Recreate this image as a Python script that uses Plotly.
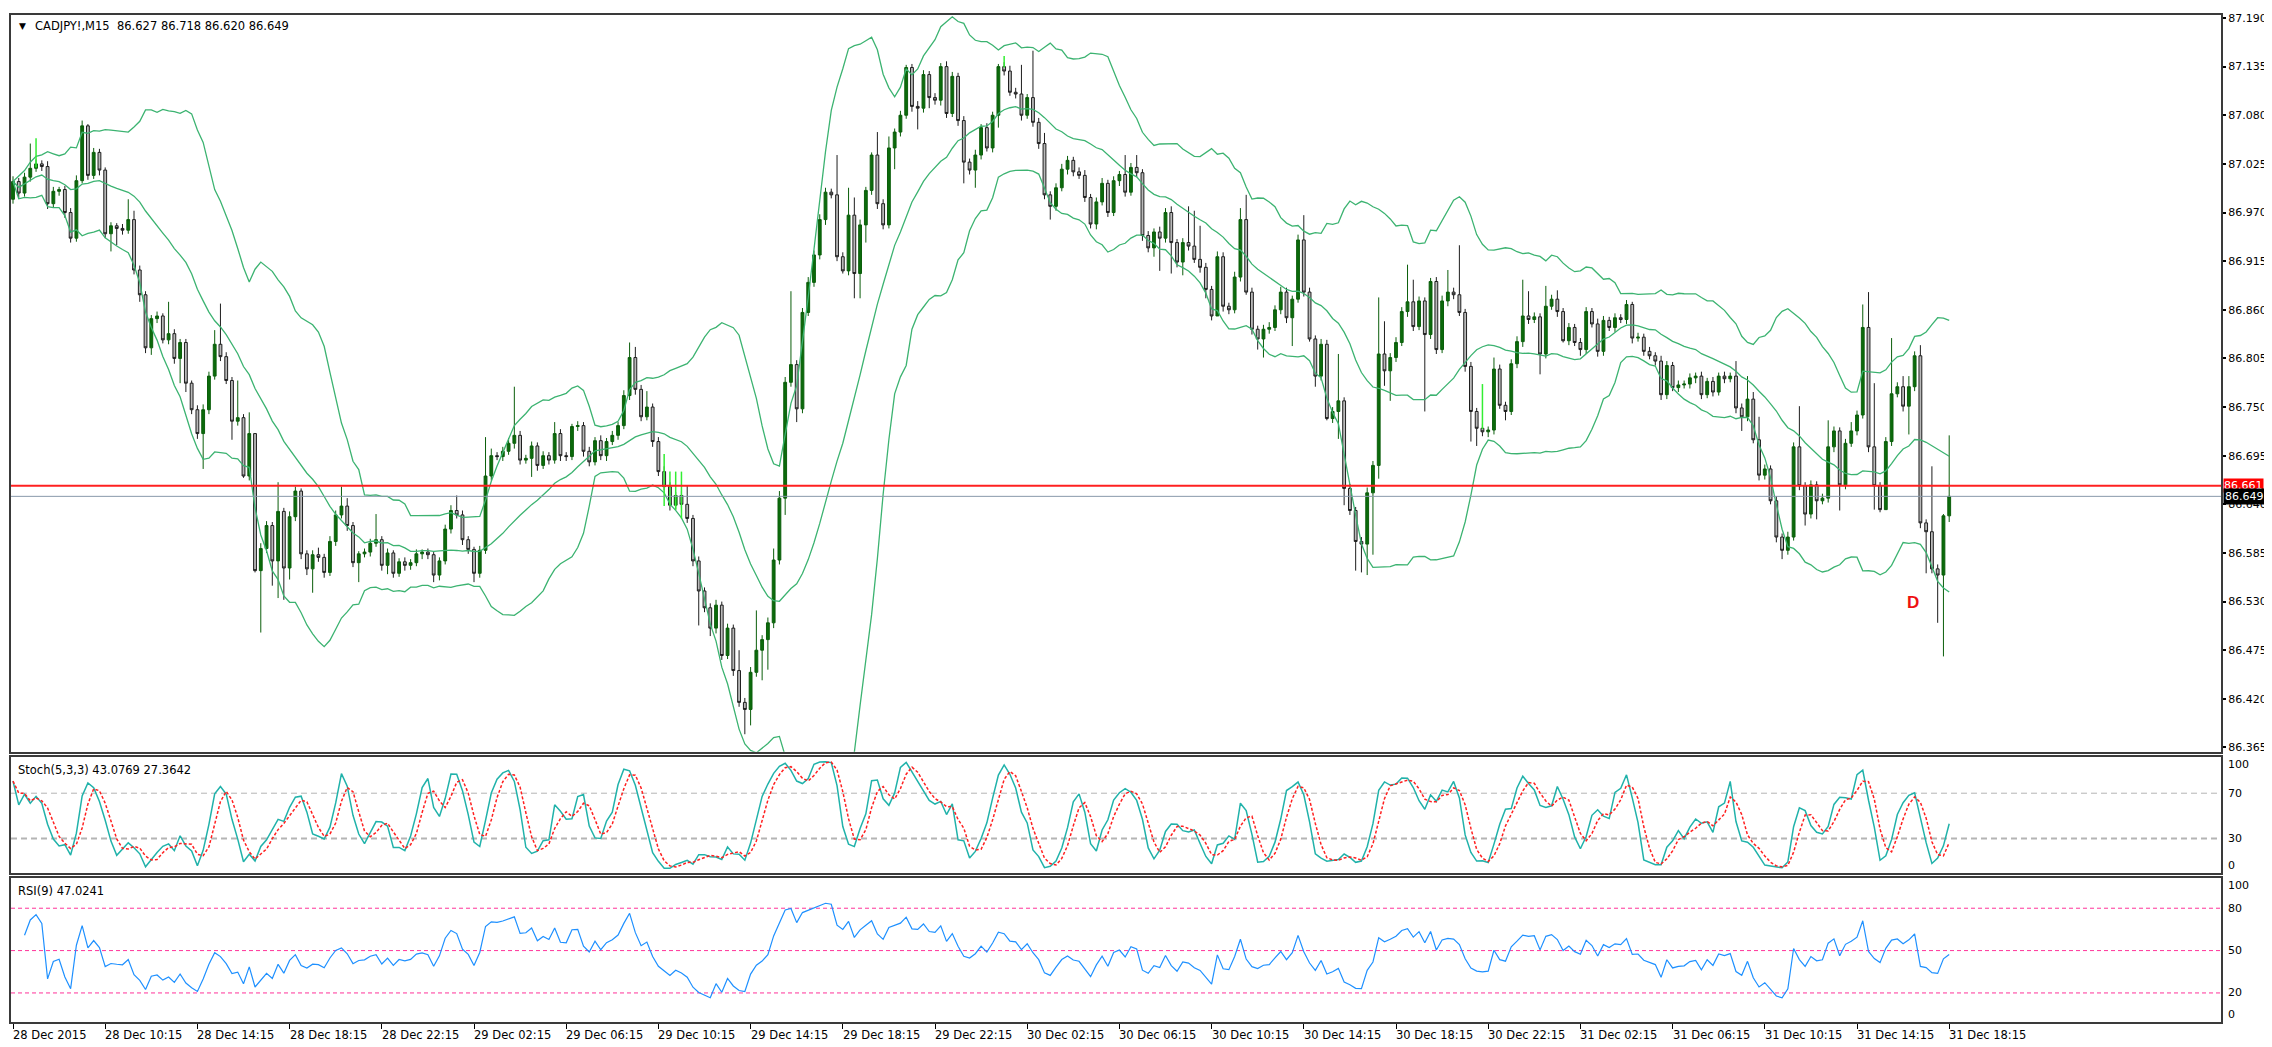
import numpy as np
import pandas as pd
import plotly.graph_objects as go

W, H = 2272, 1047

# ---------------- data ----------------
symbol = "CADJPY!,M15"
first_open = 86.985

close_prices = [
    87.005, 86.992, 87.010, 87.020, 87.025, 87.022, 86.980, 86.994, 86.996, 86.970,
    86.941, 87.006, 87.068, 87.012, 87.038, 87.018, 86.946, 86.955, 86.952, 86.950,
    86.962, 86.905, 86.877, 86.817, 86.850, 86.853, 86.826, 86.833, 86.805, 86.823,
    86.777, 86.747, 86.720, 86.747, 86.785, 86.821, 86.807, 86.780, 86.734, 86.738,
    86.672, 86.720, 86.565, 86.590, 86.616, 86.576, 86.632, 86.568, 86.626, 86.655,
    86.584, 86.567, 86.583, 86.580, 86.563, 86.598, 86.628, 86.638, 86.616, 86.574,
    86.584, 86.586, 86.596, 86.600, 86.571, 86.585, 86.562, 86.575, 86.571, 86.574,
    86.584, 86.586, 86.583, 86.560, 86.576, 86.612, 86.633, 86.628, 86.600, 86.589,
    86.562, 86.588, 86.672, 86.695, 86.694, 86.700, 86.709, 86.718, 86.690, 86.692,
    86.706, 86.684, 86.695, 86.690, 86.720, 86.695, 86.694, 86.728, 86.729, 86.700,
    86.688, 86.712, 86.695, 86.711, 86.718, 86.729, 86.763, 86.806, 86.770, 86.739,
    86.750, 86.711, 86.677, 86.660, 86.639, 86.650, 86.640, 86.624, 86.576, 86.542,
    86.523, 86.500, 86.526, 86.469, 86.500, 86.452, 86.416, 86.408, 86.450, 86.475,
    86.487, 86.506, 86.577, 86.647, 86.778, 86.798, 86.748, 86.857, 86.891, 86.922,
    86.962, 86.993, 86.990, 86.920, 86.904, 86.967, 86.901, 86.956, 86.995, 87.035,
    86.980, 86.956, 87.043, 87.061, 87.080, 87.134, 87.090, 87.088, 87.126, 87.100,
    87.097, 87.135, 87.082, 87.124, 87.074, 87.027, 87.018, 87.035, 87.066, 87.043,
    87.080, 87.135, 87.130, 87.106, 87.104, 87.080, 87.100, 87.072, 87.048, 86.990,
    86.977, 86.998, 87.019, 87.029, 87.016, 87.012, 86.987, 86.957, 86.982, 87.003,
    86.970, 87.006, 87.013, 86.993, 87.021, 87.015, 86.944, 86.930, 86.948, 86.941,
    86.970, 86.936, 86.914, 86.936, 86.932, 86.917, 86.908, 86.883, 86.853, 86.920,
    86.864, 86.860, 86.897, 86.962, 86.880, 86.838, 86.827, 86.838, 86.840, 86.860,
    86.880, 86.851, 86.872, 86.939, 86.880, 86.827, 86.785, 86.821, 86.737, 86.745,
    86.757, 86.658, 86.633, 86.598, 86.595, 86.653, 86.684, 86.810, 86.791, 86.806,
    86.823, 86.858, 86.869, 86.841, 86.870, 86.832, 86.892, 86.815, 86.870, 86.880,
    86.877, 86.857, 86.796, 86.745, 86.726, 86.722, 86.724, 86.793, 86.752, 86.745,
    86.799, 86.824, 86.853, 86.849, 86.852, 86.810, 86.864, 86.872, 86.858, 86.825,
    86.840, 86.823, 86.815, 86.858, 86.844, 86.813, 86.848, 86.840, 86.851, 86.849,
    86.866, 86.828, 86.829, 86.813, 86.808, 86.802, 86.764, 86.797, 86.772, 86.775,
    86.776, 86.783, 86.785, 86.764, 86.779, 86.767, 86.785, 86.782, 86.785, 86.749,
    86.739, 86.759, 86.713, 86.673, 86.680, 86.644, 86.603, 86.588, 86.603, 86.705,
    86.661, 86.629, 86.662, 86.644, 86.647, 86.705, 86.723, 86.662, 86.709, 86.723,
    86.741, 86.840, 86.705, 86.661, 86.634, 86.711, 86.765, 86.773, 86.751, 86.773,
    86.808, 86.619, 86.609, 86.567, 86.560, 86.627, 86.649,
]

# wick lengths in points (0.001) above/below the candle body
upper_wick_points = [
    6, 4, 5, 28, 5, 4, 6, 5, 3, 4,
    5, 6, 6, 2, 5, 4, 3, 4, 3, 5,
    23, 10, 5, 4, 4, 5, 3, 36, 5, 4,
    4, 3, 5, 6, 5, 16, 46, 5, 4, 42,
    4, 24, 0, 6, 5, 4, 33, 4, 6, 5,
    3, 4, 5, 8, 4, 6, 5, 22, 9, 4,
    3, 4, 5, 29, 4, 5, 3, 4, 5, 4,
    5, 3, 4, 3, 4, 5, 6, 17, 5, 4,
    3, 5, 44, 8, 4, 5, 6, 55, 5, 4,
    5, 4, 5, 4, 13, 5, 4, 3, 5, 4,
    5, 4, 6, 4, 5, 4, 6, 17, 12, 5,
    18, 4, 5, 6, 5, 4, 5, 21, 4, 5,
    4, 5, 6, 4, 5, 4, 23, 5, 6, 45,
    5, 6, 13, 8, 6, 83, 5, 5, 6, 5,
    6, 5, 4, 45, 5, 31, 20, 6, 4, 3,
    26, 5, 13, 4, 5, 3, 4, 6, 5, 4,
    5, 4, 6, 5, 4, 5, 4, 6, 4, 5,
    4, 3, 5, 6, 5, 33, 4, 53, 5, 12,
    4, 5, 6, 5, 4, 5, 6, 4, 5, 6,
    4, 5, 4, 22, 5, 14, 4, 5, 4, 6,
    5, 7, 4, 5, 41, 40, 38, 5, 4, 6,
    5, 4, 6, 13, 28, 5, 4, 5, 6, 5,
    6, 5, 4, 6, 28, 5, 4, 6, 5, 5,
    53, 4, 5, 4, 5, 6, 5, 64, 37, 5,
    6, 5, 42, 25, 5, 4, 4, 5, 6, 25,
    5, 56, 4, 5, 4, 5, 4, 13, 5, 4,
    5, 6, 41, 28, 5, 4, 23, 5, 10, 4,
    5, 4, 5, 5, 4, 6, 5, 4, 5, 4,
    5, 3, 5, 4, 5, 4, 6, 5, 4, 5,
    4, 5, 4, 5, 4, 5, 4, 5, 4, 17,
    5, 26, 8, 26, 5, 4, 5, 4, 6, 5,
    46, 4, 5, 4, 5, 30, 5, 4, 5, 10,
    5, 26, 40, 72, 4, 5, 63, 5, 12, 12,
    5, 12, 4, 74, 5, 2, 69,
]
lower_wick_points = [
    5, 6, 4, 5, 4, 5, 6, 4, 5, 6,
    5, 4, 3, 5, 4, 6, 5, 20, 19, 5,
    4, 5, 8, 6, 8, 5, 4, 5, 6, 28,
    10, 5, 6, 40, 5, 4, 5, 4, 21, 5,
    2, 5, 2, 70, 5, 28, 42, 36, 13, 5,
    6, 7, 27, 5, 6, 4, 5, 4, 6, 5,
    22, 4, 5, 4, 6, 10, 5, 4, 6, 5,
    4, 6, 5, 8, 6, 4, 5, 4, 6, 5,
    10, 5, 4, 5, 4, 5, 4, 6, 5, 4,
    21, 6, 4, 5, 4, 6, 5, 4, 5, 6,
    5, 4, 5, 6, 4, 5, 4, 5, 6, 5,
    4, 6, 5, 4, 6, 5, 4, 5, 6, 39,
    5, 9, 6, 5, 4, 6, 5, 28, 18, 5,
    34, 34, 6, 5, 19, 5, 15, 5, 4, 5,
    5, 6, 4, 5, 3, 5, 28, 28, 20, 5,
    6, 5, 4, 24, 5, 4, 6, 24, 5, 12,
    5, 6, 5, 4, 6, 24, 5, 20, 5, 4,
    5, 14, 5, 4, 5, 6, 4, 5, 6, 5,
    15, 5, 4, 6, 5, 4, 5, 5, 6, 4,
    5, 4, 6, 5, 4, 5, 6, 5, 10, 37,
    5, 35, 6, 15, 5, 4, 6, 10, 5, 0,
    6, 5, 4, 5, 3, 6, 12, 21, 5, 4,
    5, 6, 32, 4, 5, 3, 12, 5, 2, 5,
    31, 19, 5, 33, 32, 35, 70, 15, 17, 34,
    5, 4, 6, 5, 4, 87, 5, 5, 4, 6,
    5, 4, 6, 34, 20, 5, 6, 5, 4, 10,
    4, 5, 6, 5, 4, 23, 5, 4, 6, 2,
    5, 4, 7, 5, 4, 6, 5, 4, 5, 4,
    5, 6, 4, 5, 4, 5, 6, 5, 4, 5,
    4, 5, 6, 5, 4, 5, 4, 5, 4, 6,
    16, 5, 4, 6, 5, 4, 6, 10, 5, 4,
    5, 13, 5, 21, 4, 5, 6, 29, 5, 4,
    5, 4, 6, 27, 3, 0, 5, 4, 6, 32,
    5, 6, 47, 5, 54, 92, 7,
]

price_tick_values = [87.190, 87.135, 87.080, 87.025, 86.970, 86.915, 86.860, 86.805,
                     86.750, 86.695, 86.640, 86.585, 86.530, 86.475, 86.420, 86.365]
time_tick_labels = ["28 Dec 2015", "28 Dec 10:15", "28 Dec 14:15", "28 Dec 18:15",
                    "28 Dec 22:15", "29 Dec 02:15", "29 Dec 06:15", "29 Dec 10:15",
                    "29 Dec 14:15", "29 Dec 18:15", "29 Dec 22:15", "30 Dec 02:15",
                    "30 Dec 06:15", "30 Dec 10:15", "30 Dec 14:15", "30 Dec 18:15",
                    "30 Dec 22:15", "31 Dec 02:15", "31 Dec 06:15", "31 Dec 10:15",
                    "31 Dec 14:15", "31 Dec 18:15"]
bars_per_tick = 16

lime_bars = [4, 113, 114, 115, 116, 172, 255]
lime_top = [87.054, 86.697, 86.677, 86.677, 86.677, 87.147, 86.776]
lime_bottom = [87.021, 86.638, 86.638, 86.634, 86.624, 87.134, 86.725]

ask_line = 86.661
bid_line = 86.649
stoch_levels = [70, 30]
rsi_levels = [80, 50, 20]
stoch_scale_labels = ["100", "70", "30", "0"]
stoch_scale_values = [100, 70, 30, 0]
rsi_scale_labels = ["100", "80", "50", "20", "0"]
rsi_scale_values = [100, 80, 50, 20, 0]
stoch_title = "Stoch(5,3,3) 43.0769 27.3642"
rsi_title = "RSI(9) 47.0241"
marker_text = "D"
marker_bar = 329.7
marker_price = 86.529

# ---------------- derived series ----------------
point = 0.001
close = np.array(close_prices)
assert len(close) == 337 and len(upper_wick_points) == 337 and len(lower_wick_points) == 337
open_ = np.concatenate([[first_open], close[:-1]])
high = np.maximum(open_, close) + np.array(upper_wick_points) * point
low = np.minimum(open_, close) - np.array(lower_wick_points) * point
bars = np.arange(len(close))

s = pd.Series(close)
mid = s.rolling(20, min_periods=1).mean()
sd = s.rolling(20, min_periods=1).std(ddof=0)
bb_up = mid + 2 * sd
bb_lo = mid - 2 * sd

hh = pd.Series(high).rolling(5, min_periods=1).max()
ll = pd.Series(low).rolling(5, min_periods=1).min()
num = (s - ll).rolling(3, min_periods=1).sum()
den = (hh - ll).rolling(3, min_periods=1).sum()
stoch_k = 100 * num / den
stoch_d = stoch_k.rolling(3, min_periods=1).mean()

delta = s.diff()
gain = delta.clip(lower=0)
loss = (-delta).clip(lower=0)
ag = gain.ewm(alpha=1 / 9, adjust=True).mean()
al = loss.ewm(alpha=1 / 9, adjust=True).mean()
rsi = 100 - 100 / (1 + ag / al)
rsi.iloc[:2] = np.nan

tick_bars = [i * bars_per_tick for i in range(len(time_tick_labels))]

# ---------------- geometry ----------------
def py(y):
    return 1 - y / H

bar_px = 5.7625
x_first = 5.0
x_left_px, x_right_px = 3, 2213
xr = [(x_left_px - x_first) / bar_px, (x_right_px - x_first) / bar_px]
xdom = [x_left_px / W, x_right_px / W]

# sub-window pixel geometry (top, bottom, value at top, value at bottom)
stoch_px = (750, 867)
rsi_px = (872, 1017)
stoch_range = [-0.4, 102.2]
rsi_range = [-0.7, 101.4]

FONT = "DejaVu Sans"
FS = 11
border = dict(showline=True, mirror=True, linecolor="#3a3a3a", linewidth=2)

fig = go.Figure()

fig.add_trace(go.Candlestick(
    x=bars, open=open_, high=high, low=low, close=close,
    increasing=dict(line=dict(color="#0b5e0b", width=1), fillcolor="#0b6b0b"),
    decreasing=dict(line=dict(color="#1e1e1e", width=1), fillcolor="#b9b9b9"),
    xaxis="x", yaxis="y", hoverinfo="skip", showlegend=False))

for band in (bb_up, mid, bb_lo):
    fig.add_trace(go.Scatter(x=bars, y=band, mode="lines",
                             line=dict(color="#3cb371", width=1.3),
                             xaxis="x", yaxis="y", hoverinfo="skip", showlegend=False))

lx, ly = [], []
for b, t, bt in zip(lime_bars, lime_top, lime_bottom):
    lx += [b, b, None]
    ly += [t, bt, None]
fig.add_trace(go.Scatter(x=lx, y=ly, mode="lines", line=dict(color="#33ee33", width=1.5),
                         xaxis="x", yaxis="y", hoverinfo="skip", showlegend=False))

fig.add_trace(go.Scatter(x=bars, y=stoch_k, mode="lines",
                         line=dict(color="#20b2aa", width=1.5),
                         xaxis="x2", yaxis="y2", hoverinfo="skip", showlegend=False))
fig.add_trace(go.Scatter(x=bars, y=stoch_d, mode="lines",
                         line=dict(color="#ff2020", width=1.5, dash="3px,2px"),
                         xaxis="x2", yaxis="y2", hoverinfo="skip", showlegend=False))

fig.add_trace(go.Scatter(x=bars, y=rsi, mode="lines",
                         line=dict(color="#1e90ff", width=1.2),
                         xaxis="x3", yaxis="y3", hoverinfo="skip", showlegend=False))

shapes = []
shapes.append(dict(type="line", xref="x domain", yref="y", x0=0, x1=1, y0=ask_line, y1=ask_line,
                   line=dict(color="#ff2020", width=2)))
shapes.append(dict(type="line", xref="x domain", yref="y", x0=0, x1=1, y0=bid_line, y1=bid_line,
                   line=dict(color="#8899aa", width=1)))
for lv, wd in zip(stoch_levels, [1, 2]):
    shapes.append(dict(type="line", xref="x2 domain", yref="y2", x0=0, x1=1, y0=lv, y1=lv,
                       layer="below", line=dict(color="#b4b4b4", width=wd, dash="6px,4px")))
for lv in rsi_levels:
    shapes.append(dict(type="line", xref="x3 domain", yref="y3", x0=0, x1=1, y0=lv, y1=lv,
                       layer="below", line=dict(color="#ff3399", width=1, dash="4px,3px")))

annotations = []
annotations.append(dict(text="\u25bc", x=9 / W, y=py(15), xref="paper", yref="paper",
                        xanchor="left", yanchor="middle", showarrow=False,
                        font=dict(family=FONT, size=9, color="#000000")))
header = f"{symbol}  {open_[-1]:.3f} {high[-1]:.3f} {low[-1]:.3f} {close[-1]:.3f}"
annotations.append(dict(text=header, x=25 / W, y=py(15), xref="paper", yref="paper",
                        xanchor="left", yanchor="middle", showarrow=False,
                        font=dict(family=FONT, size=11.5, color="#000000")))
annotations.append(dict(text=stoch_title, x=8 / W, y=py(763), xref="paper", yref="paper",
                        xanchor="left", yanchor="middle", showarrow=False,
                        font=dict(family=FONT, size=11.5, color="#000000")))
annotations.append(dict(text=rsi_title, x=8 / W, y=py(885), xref="paper", yref="paper",
                        xanchor="left", yanchor="middle", showarrow=False,
                        font=dict(family=FONT, size=11.5, color="#000000")))
annotations.append(dict(text=f"<b>{marker_text}</b>", x=marker_bar, y=marker_price, xref="x", yref="y",
                        xanchor="center", yanchor="middle", showarrow=False,
                        font=dict(family="Liberation Sans", size=17, color="#ee1111")))
for b, lab in zip(tick_bars, time_tick_labels):
    annotations.append(dict(text=lab, x=b, y=py(1030), xref="x3", yref="paper",
                            xanchor="left", yanchor="middle", showarrow=False, xshift=-2,
                            font=dict(family=FONT, size=11.5, color="#000000")))

# sub-window scale labels: MT4 keeps the extreme labels inside the window
def sub_label_y(v, px_top, px_bot, rng):
    y = px_bot - (v - rng[0]) / (rng[1] - rng[0]) * (px_bot - px_top)
    return min(max(y, px_top + 8), px_bot - 8)

for v, lab in zip(stoch_scale_values, stoch_scale_labels):
    annotations.append(dict(text=lab, x=2218 / W, y=py(sub_label_y(v, *stoch_px, stoch_range)),
                            xref="paper", yref="paper", xanchor="left", yanchor="middle",
                            showarrow=False, font=dict(family=FONT, size=FS, color="#000000")))
for v, lab in zip(rsi_scale_values, rsi_scale_labels):
    annotations.append(dict(text=lab, x=2218 / W, y=py(sub_label_y(v, *rsi_px, rsi_range)),
                            xref="paper", yref="paper", xanchor="left", yanchor="middle",
                            showarrow=False, font=dict(family=FONT, size=FS, color="#000000")))

annotations.append(dict(text=f"{ask_line:.3f}", x=2215 / W, y=ask_line, xref="paper", yref="y",
                        xanchor="left", yanchor="middle", showarrow=False, bgcolor="#ff0000",
                        borderpad=0, font=dict(family=FONT, size=FS, color="#ffffff")))
annotations.append(dict(text=f"{bid_line:.3f}", x=2215 / W, y=bid_line, xref="paper", yref="y",
                        xanchor="left", yanchor="middle", showarrow=False, bgcolor="#000000",
                        borderpad=1, font=dict(family=FONT, size=FS, color="#ffffff")))

tickfont = dict(family=FONT, size=FS, color="#000000")

fig.update_layout(
    width=W, height=H, autosize=False,
    margin=dict(l=0, r=0, t=0, b=0),
    paper_bgcolor="#ffffff", plot_bgcolor="#ffffff",
    showlegend=False, hovermode=False,
    shapes=shapes, annotations=annotations,
    xaxis=dict(domain=xdom, range=xr, anchor="y", showticklabels=False, ticks="",
               showgrid=False, zeroline=False, rangeslider=dict(visible=False), **border),
    xaxis2=dict(domain=xdom, range=xr, anchor="y2", showticklabels=False, ticks="",
                showgrid=False, zeroline=False, matches="x", **border),
    xaxis3=dict(domain=xdom, range=xr, anchor="y3", showticklabels=False, ticks="outside",
                tickvals=tick_bars, ticklen=5, tickwidth=1, tickcolor="#000000",
                showgrid=False, zeroline=False, matches="x", **border),
    yaxis=dict(domain=[py(745), py(4)], range=[86.3602, 87.1934], anchor="x", side="right",
               tickvals=price_tick_values, ticktext=[f"{v:.3f}" for v in price_tick_values],
               ticks="outside", ticklen=3, tickwidth=2, tickcolor="#000000", tickfont=tickfont,
               showgrid=False, zeroline=False, **border),
    yaxis2=dict(domain=[py(stoch_px[1]), py(stoch_px[0])], range=stoch_range, anchor="x2",
                side="right", showticklabels=False, ticks="",
                showgrid=False, zeroline=False, **border),
    yaxis3=dict(domain=[py(rsi_px[1]), py(rsi_px[0])], range=rsi_range, anchor="x3",
                side="right", showticklabels=False, ticks="",
                showgrid=False, zeroline=False, **border),
)

fig.write_html("out.html")
